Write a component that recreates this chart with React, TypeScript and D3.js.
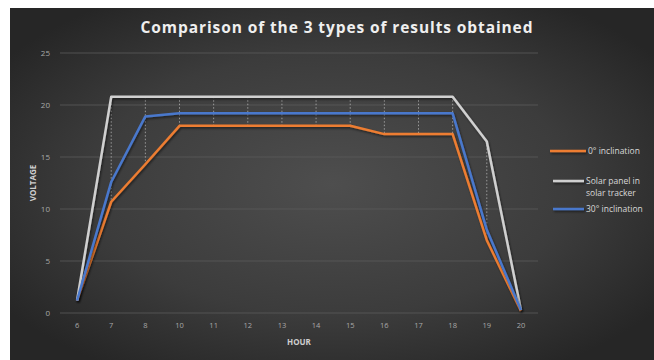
import React from "react";
import * as d3 from "d3";

const hours = ["6", "7", "8", "10", "11", "12", "13", "14", "15", "16", "17", "18", "19", "20"];
const inclination0 = [1.2, 10.7, 14.3, 18.0, 18.0, 18.0, 18.0, 18.0, 18.0, 17.2, 17.2, 17.2, 7.0, 0.2];
const tracker = [1.2, 20.8, 20.8, 20.8, 20.8, 20.8, 20.8, 20.8, 20.8, 20.8, 20.8, 20.8, 16.5, 0.3];
const inclination30 = [1.2, 12.6, 18.9, 19.2, 19.2, 19.2, 19.2, 19.2, 19.2, 19.2, 19.2, 19.2, 8.0, 0.3];
const yTicks = [0, 5, 10, 15, 20, 25];
const seriesNames = ["0° inclination", "Solar panel in solar tracker", "30° inclination"];

const W = 654;
const H = 360;

export default function App() {
  const x = d3.scalePoint<string>().domain(hours).range([60, 538]).padding(0.5);
  const y = d3.scaleLinear().domain([0, 25]).range([313, 53]);

  const series = [
    { name: seriesNames[0], values: inclination0, color: "#ed7d31" },
    { name: seriesNames[1], values: tracker, color: "#d0d0d0" },
    { name: seriesNames[2], values: inclination30, color: "#4a78cc" },
  ];

  const line = d3
    .line<number>()
    .x((_, i) => x(hours[i]) as number)
    .y((d) => y(d));

  const font = "'Open Sans', 'DejaVu Sans', sans-serif";

  return (
    <svg
      width={W}
      height={H}
      style={{ position: "absolute", left: 0, top: 0, display: "block" }}
      fontFamily={font}
    >
      <defs>
        <radialGradient id="bg" cx="0.5" cy="0.5" r="0.62">
          <stop offset="0" stopColor="#4e4e4e" />
          <stop offset="0.6" stopColor="#3c3c3c" />
          <stop offset="1" stopColor="#262626" />
        </radialGradient>
        <filter id="shadow" filterUnits="userSpaceOnUse" x={0} y={0} width={W} height={H}>
          <feDropShadow dx="1" dy="1.5" stdDeviation="1.2" floodColor="#000" floodOpacity="0.55" />
        </filter>
      </defs>
      <rect x={0} y={0} width={W} height={H} fill="#ffffff" />
      <rect x={10} y={8} width={W - 10} height={H - 8} fill="url(#bg)" />

      <text
        x={337}
        y={33}
        textAnchor="middle"
        fontSize={15.5}
        fontWeight="bold"
        fill="#efefef"
        letterSpacing={0.9}
      >
        Comparison of the 3 types of results obtained
      </text>

      {yTicks.map((t) => (
        <g key={t}>
          <line x1={60} x2={538} y1={y(t)} y2={y(t)} stroke="#5c5c5c" strokeWidth={0.8} />
          <text x={50} y={y(t) + 3} textAnchor="end" fontSize={8} fill="#a8a8a8">
            {t}
          </text>
        </g>
      ))}

      {hours.map((h) => (
        <text key={h} x={x(h)} y={328} textAnchor="middle" fontSize={7.5} fill="#a8a8a8">
          {h}
        </text>
      ))}

      {hours.map((h, i) => {
        const vals = series.map((s) => s.values[i]);
        return (
          <line
            key={"hl" + h}
            x1={x(h)}
            x2={x(h)}
            y1={y(d3.max(vals) as number)}
            y2={y(d3.min(vals) as number)}
            stroke="#bdbdbd"
            strokeWidth={0.9}
            strokeDasharray="1.5,2"
            opacity={0.8}
          />
        );
      })}

      {series.map((s) => (
        <path
          key={s.name}
          d={line(s.values) as string}
          fill="none"
          stroke={s.color}
          strokeWidth={2.5}
          strokeLinejoin="round"
          filter="url(#shadow)"
        />
      ))}

      <text
        transform={`translate(36,${(y(0) + y(25)) / 2}) rotate(-90)`}
        textAnchor="middle"
        fontSize={8}
        fontWeight="bold"
        fill="#cfcfcf"
      >
        VOLTAGE
      </text>
      <text x={299} y={345} textAnchor="middle" fontSize={8} fontWeight="bold" fill="#cfcfcf">
        HOUR
      </text>

      {/* Legend */}
      <g fontSize={8.5} fill="#d8d8d8">
        <line x1={550} x2={586} y1={151} y2={151} stroke={series[0].color} strokeWidth={2.5} filter="url(#shadow)" />
        <text x={588} y={154}>{seriesNames[0]}</text>

        <line x1={553} x2={584} y1={181} y2={181} stroke={series[1].color} strokeWidth={2.5} filter="url(#shadow)" />
        <text x={586} y={184}>Solar panel in</text>
        <text x={586} y={196}>solar tracker</text>

        <line x1={553} x2={584} y1={209} y2={209} stroke={series[2].color} strokeWidth={2.5} filter="url(#shadow)" />
        <text x={586} y={212}>{seriesNames[2]}</text>
      </g>
    </svg>
  );
}
